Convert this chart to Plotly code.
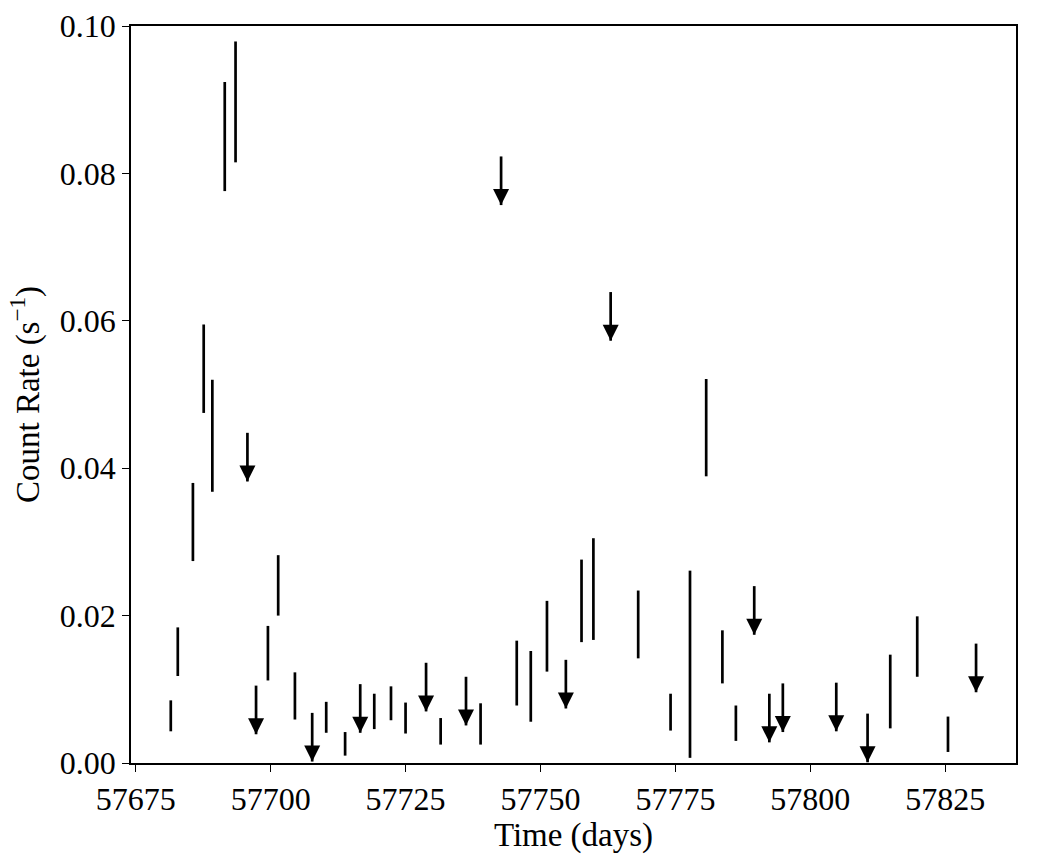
import plotly.graph_objects as go

# Detections: time (MJD), count rate, 1-sigma error
det_time = [57681.5, 57682.8, 57685.6, 57687.6, 57689.2, 57691.5, 57693.5,
            57699.5, 57701.4, 57704.5, 57710.3, 57713.8, 57719.2, 57722.3,
            57725.0, 57731.5, 57738.9, 57745.6, 57748.2, 57751.2, 57757.6,
            57759.8, 57768.1, 57774.1, 57777.7, 57780.7, 57783.7, 57786.2,
            57814.8, 57819.8, 57825.5]
det_rate = [0.0064, 0.0151, 0.0327, 0.0535, 0.0444, 0.0850, 0.0897,
            0.0149, 0.0241, 0.0091, 0.0062, 0.0026, 0.0070, 0.0081,
            0.0061, 0.0043, 0.0053, 0.0122, 0.0104, 0.0172, 0.0220,
            0.0236, 0.0188, 0.0069, 0.0134, 0.0455, 0.0144, 0.0054,
            0.0097, 0.0158, 0.0039]
det_err = [0.0021, 0.0033, 0.0053, 0.0060, 0.0076, 0.0074, 0.0082,
           0.0037, 0.0041, 0.0032, 0.0021, 0.0016, 0.0024, 0.0023,
           0.0021, 0.0018, 0.0028, 0.0044, 0.0048, 0.0048, 0.0056,
           0.0069, 0.0046, 0.0025, 0.0127, 0.0066, 0.0036, 0.0024,
           0.0050, 0.0041, 0.0024]

# Upper limits: time (MJD), upper-limit count rate
ul_time = [57695.7, 57697.3, 57707.7, 57716.6, 57728.8, 57736.2, 57742.7,
           57754.7, 57763.0, 57789.6, 57792.4, 57794.9, 57804.8, 57810.6,
           57830.7]
ul_rate = [0.0448, 0.0105, 0.0068, 0.0107, 0.0136, 0.0117, 0.0823,
           0.0140, 0.0639, 0.0240, 0.0094, 0.0108, 0.0109, 0.0067,
           0.0162]

x_ticks = [57675, 57700, 57725, 57750, 57775, 57800, 57825]
y_ticks = [0.00, 0.02, 0.04, 0.06, 0.08, 0.10]

ARROW_LEN = 0.0066  # style: length of upper-limit arrows (data units)

FONT = "Liberation Serif"
BAR_W = 2.7

fig = go.Figure()

fig.add_trace(go.Scatter(
    x=det_time, y=det_rate, mode="markers",
    marker=dict(size=1, color="rgba(0,0,0,0)"),
    error_y=dict(type="data", array=det_err, symmetric=True,
                 color="black", thickness=BAR_W, width=0),
    showlegend=False, hoverinfo="x+y",
))

ul_tip = [u - ARROW_LEN for u in ul_rate]
fig.add_trace(go.Scatter(
    x=ul_time, y=ul_tip, mode="markers",
    marker=dict(symbol="arrow-down", size=16, color="black",
                line=dict(width=0)),
    error_y=dict(type="data", array=[ARROW_LEN] * len(ul_rate),
                 arrayminus=[0] * len(ul_rate), symmetric=False,
                 color="black", thickness=BAR_W, width=0),
    showlegend=False, hoverinfo="x+y",
))

axis_common = dict(
    showline=True, linecolor="black", linewidth=1.5, mirror=True,
    ticks="outside", ticklen=7, tickwidth=1.3, tickcolor="black",
    showgrid=False, zeroline=False, automargin=False,
    tickfont=dict(family=FONT, size=32, color="black"),
)

fig.update_layout(
    width=1039, height=866,
    margin=dict(l=131, r=23, t=26, b=103),
    paper_bgcolor="white", plot_bgcolor="white",
    font=dict(family=FONT, color="black"),
    xaxis=dict(range=[57674.13, 57838.1], tickvals=x_ticks,
               ticktext=[str(v) for v in x_ticks],
               title=dict(text="Time (days)", font=dict(family=FONT, size=33),
                          standoff=6),
               **axis_common),
    yaxis=dict(range=[0, 0.1], tickvals=y_ticks,
               ticktext=[f"{v:.2f}" for v in y_ticks],
               title=dict(text="Count Rate (s<sup>−1</sup>)",
                          font=dict(family=FONT, size=33), standoff=10),
               **axis_common),
)

fig.write_html("out.html")
